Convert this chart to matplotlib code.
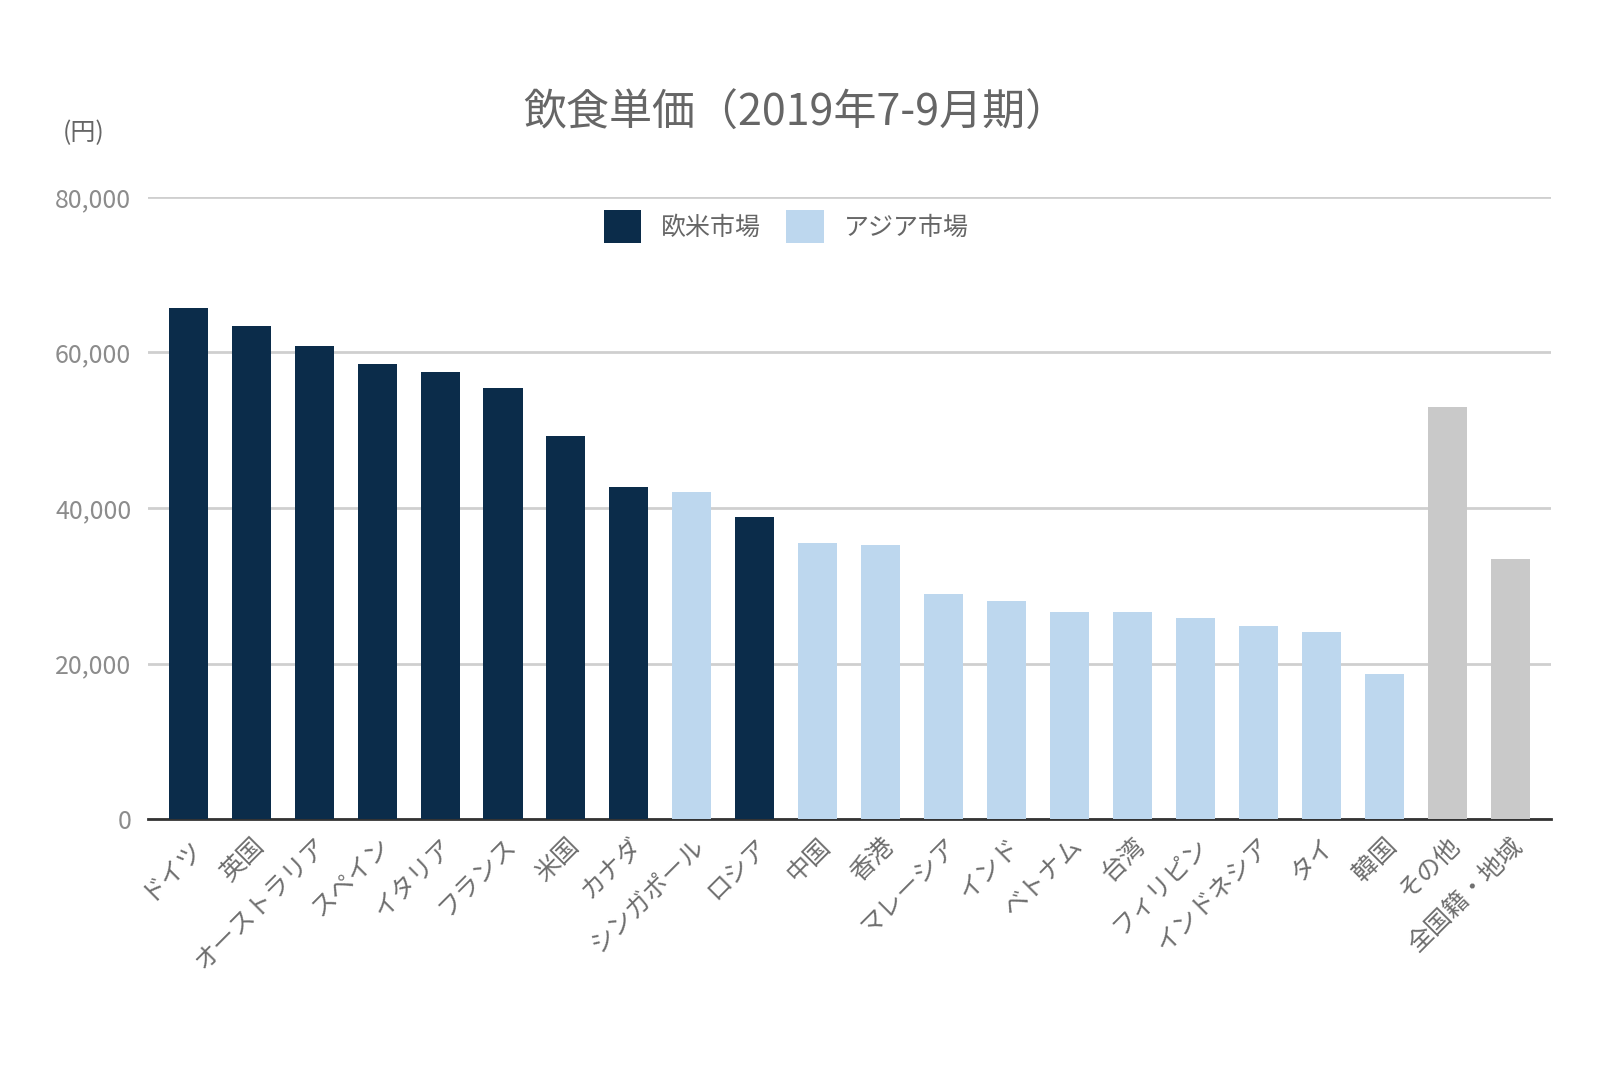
import matplotlib
matplotlib.use("Agg")
import matplotlib.pyplot as plt
from matplotlib.patches import Patch

plt.rcParams['font.family'] = ['Noto Sans CJK JP', 'DejaVu Sans']

categories = ["ドイツ", "英国", "オーストラリア", "スペイン", "イタリア", "フランス", "米国", "カナダ",
              "シンガポール", "ロシア", "中国", "香港", "マレーシア", "インド", "ベトナム", "台湾",
              "フィリピン", "インドネシア", "タイ", "韓国", "その他", "全国籍・地域"]
values = [65700, 63400, 60900, 58500, 57500, 55400, 49300, 42700,
          42000, 38900, 35500, 35200, 29000, 28000, 26600, 26600,
          25900, 24800, 24100, 18600, 53000, 33400]
groups = ["欧米", "欧米", "欧米", "欧米", "欧米", "欧米", "欧米", "欧米",
          "アジア", "欧米", "アジア", "アジア", "アジア", "アジア", "アジア", "アジア",
          "アジア", "アジア", "アジア", "アジア", "その他", "その他"]
yticks = [0, 20000, 40000, 60000, 80000]
legend_labels = ["欧米市場", "アジア市場"]
title = "飲食単価（2019年7-9月期）"
unit = "(円)"

color_map = {"欧米": "#0B2C4A", "アジア": "#BDD7EE", "その他": "#C9C9C9"}
colors = [color_map[g] for g in groups]

fig = plt.figure(figsize=(16, 10.67), dpi=100)
ax = fig.add_axes([148/1600, 1 - 819/1067, (1551-148)/1600, (819-197)/1067])

x = list(range(len(categories)))
ax.bar(x, values, width=0.62, color=colors, zorder=3)

ax.set_ylim(0, 80000)
ax.set_xlim(-0.64, len(categories) - 1 + 0.65)
ax.set_yticks(yticks)
ax.set_yticklabels([f"{v:,}" for v in yticks], fontsize=18, color="#8C8C8C")
ax.yaxis.grid(True, color="#CFCFCF", linewidth=2, zorder=0)
ax.set_axisbelow(True)
for s in ["top", "right", "left"]:
    ax.spines[s].set_visible(False)
ax.spines["bottom"].set_color("#333333")
ax.spines["bottom"].set_linewidth(2)
ax.tick_params(axis="y", length=0, pad=12)
ax.tick_params(axis="x", length=0, pad=10)
ax.set_xticks(x)
ax.set_xticklabels(categories, rotation=45, ha="right", rotation_mode="anchor",
                   fontsize=18, color="#6E6E6E")

fig.text(796/1600, 1 - 114/1067, title, ha="center", va="center", fontsize=31, color="#666666")
fig.text(84/1600, 1 - 133/1067, unit, ha="center", va="center", fontsize=18, color="#666666")

handles = [Patch(facecolor=color_map["欧米"]), Patch(facecolor=color_map["アジア"])]
leg = ax.legend(handles, legend_labels, loc="upper center", bbox_to_anchor=(0.455, 1.0),
                ncol=2, frameon=False, fontsize=18, handlelength=1.5, handleheight=1.7,
                handletextpad=0.8, columnspacing=1.0, borderaxespad=0.1)
for t in leg.get_texts():
    t.set_color("#666666")

fig.savefig("out.png", dpi=100)
